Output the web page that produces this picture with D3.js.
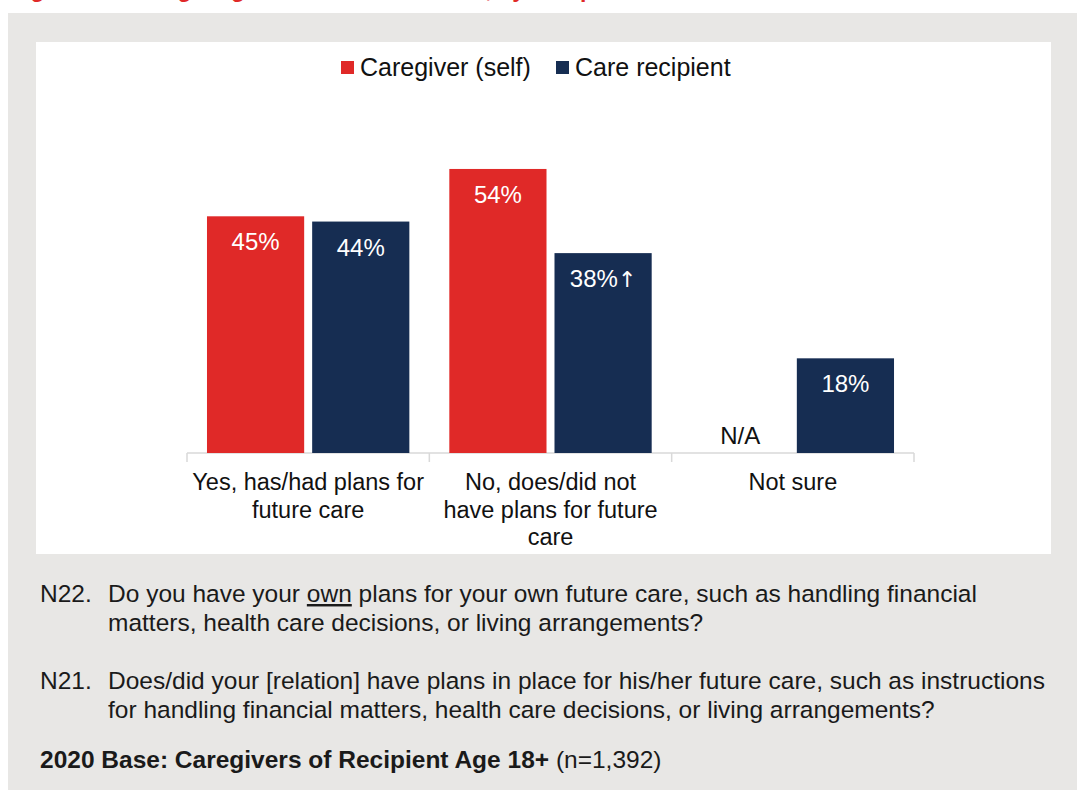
<!DOCTYPE html>
<html><head><meta charset="utf-8">
<script src="https://cdn.jsdelivr.net/npm/d3@7/dist/d3.min.js"></script>
<style>
html,body{margin:0;padding:0;background:#fff;}
svg text{font-family:"Liberation Sans",Arial,sans-serif;}
</style></head>
<body><svg id="chart" width="1077" height="790"></svg>
<script>
const categories = [["Yes, has/had plans for","future care"],["No, does/did not","have plans for future","care"],["Not sure"]];
const categoryKeys = ["yes","no","notsure"];
const seriesNames = ["Caregiver (self)","Care recipient"];
const caregiverSelf = [45, 54, null];
const careRecipient = [44, 38, 18];
const valueLabelsSelf = ["45%","54%","N/A"];
const valueLabelsRecipient = ["44%","38%","18%"];
const valueMarksRecipient = ["","\u2191",""];
const colors = ["#e02928","#162d52"];

const svg = d3.select("#chart");
// backgrounds
svg.append("rect").attr("x",8).attr("y",13).attr("width",1069).attr("height",777).attr("fill","#e8e7e5");
svg.append("rect").attr("x",36).attr("y",42).attr("width",1015).attr("height",512).attr("fill","#ffffff");
// title (cut off at the top edge, as in the reference)
svg.append("text").attr("x",10).attr("y",-3).attr("fill","#e02928").attr("font-weight","bold")
  .attr("font-size",23).text("Figure 84: Caregiving Plans for Future Care, by Recipient");

const x0 = d3.scaleBand().domain(categoryKeys).range([187,914]).paddingInner(0).paddingOuter(0);
const x1 = d3.scaleBand().domain(seriesNames).range([0,x0.bandwidth()]).paddingInner(0.076).paddingOuter(0.19);
const y = d3.scaleLinear().domain([0,60]).range([453,453-60*5.26]);

// axis
const axis = d3.axisBottom(x0).tickSize(0).tickFormat("");
const ag = svg.append("g").attr("transform","translate(0,453)").call(axis);
ag.select(".domain").attr("stroke","#d9d9d9").attr("stroke-width",1.5).attr("d","M187,0H914");
const bounds = [187].concat(categoryKeys.map(k=>x0(k)+x0.bandwidth()));
ag.selectAll("line.tk").data(bounds).enter().append("line").attr("class","tk")
  .attr("x1",d=>d).attr("x2",d=>d).attr("y1",0).attr("y2",9).attr("stroke","#d9d9d9").attr("stroke-width",1.5);

const data = [caregiverSelf, careRecipient];
const labels = [valueLabelsSelf, valueLabelsRecipient];
seriesNames.forEach((s,si)=>{
  const g = svg.append("g");
  categoryKeys.forEach((k,ci)=>{
    const v = data[si][ci];
    const cx = x0(k)+x1(s)+x1.bandwidth()/2;
    if(v!==null){
      g.append("rect").attr("x",x0(k)+x1(s)).attr("y",y(v)).attr("width",x1.bandwidth()).attr("height",y(0)-y(v)).attr("fill",colors[si]);
      const t = g.append("text").attr("x",cx).attr("y",y(v)+34).attr("text-anchor","middle").attr("fill","#ffffff").attr("font-size",24);
      t.append("tspan").text(labels[si][ci]);
      const mk = si===1 ? valueMarksRecipient[ci] : "";
      if(mk) t.append("tspan").attr("font-family","DejaVu Sans").attr("font-size",22).text(mk);
    } else {
      g.append("text").attr("x",cx).attr("y",444).attr("text-anchor","middle").attr("fill","#111").attr("font-size",24).text(labels[si][ci]);
    }
  });
});

// category labels
categoryKeys.forEach((k,ci)=>{
  const t = svg.append("text").attr("text-anchor","middle").attr("font-size",23.5).attr("fill","#111");
  categories[ci].forEach((line,li)=>{
    t.append("tspan").attr("x",x0(k)+x0.bandwidth()/2).attr("y",490+li*27.5).text(line);
  });
});

// legend
const leg = svg.append("g");
const legX = [341,556];
seriesNames.forEach((s,i)=>{
  leg.append("rect").attr("x",legX[i]).attr("y",61).attr("width",13).attr("height",13).attr("fill",colors[i]);
  leg.append("text").attr("x",legX[i]+19).attr("y",76).attr("font-size",25).attr("fill","#111").text(s);
});

// notes
const fs = 24.5;
const n = svg.append("g").attr("fill","#1a1a1a").attr("font-size",fs);
n.append("text").attr("x",40).attr("y",602).text("N22.");
const l1 = n.append("text").attr("x",108).attr("y",602);
l1.append("tspan").text("Do you have your ");
l1.append("tspan").attr("text-decoration","underline").text("own");
l1.append("tspan").text(" plans for your own future care, such as handling financial");
n.append("text").attr("x",108).attr("y",631).text("matters, health care decisions, or living arrangements?");
n.append("text").attr("x",40).attr("y",689).text("N21.");
n.append("text").attr("x",108).attr("y",689).text("Does/did your [relation] have plans in place for his/her future care, such as instructions");
n.append("text").attr("x",108).attr("y",718).text("for handling financial matters, health care decisions, or living arrangements?");
const b = n.append("text").attr("x",40).attr("y",768);
b.append("tspan").attr("font-weight","bold").text("2020 Base: Caregivers of Recipient Age 18+");
b.append("tspan").text(" (n=1,392)");
</script></body></html>
